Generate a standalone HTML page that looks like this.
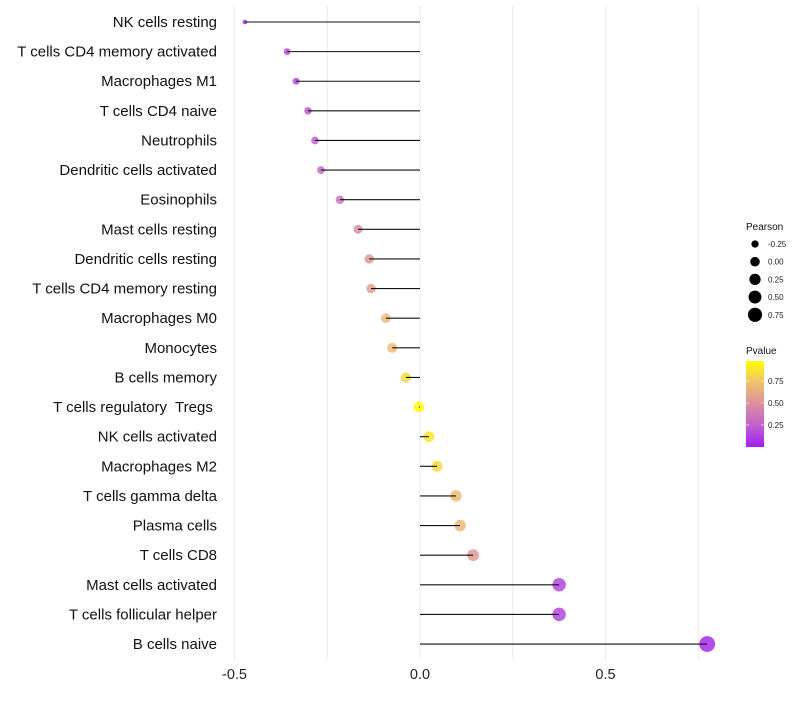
<!DOCTYPE html>
<html><head><meta charset="utf-8"><style>
body{margin:0;background:#fff;font-family:"Liberation Sans",sans-serif}
svg text{font-family:"Liberation Sans",sans-serif;white-space:pre}
</style></head><body>
<svg id="c" width="800" height="700"></svg>
<script>
const categories=["NK cells resting","T cells CD4 memory activated","Macrophages M1","T cells CD4 naive","Neutrophils","Dendritic cells activated","Eosinophils","Mast cells resting","Dendritic cells resting","T cells CD4 memory resting","Macrophages M0","Monocytes","B cells memory","T cells regulatory  Tregs ","NK cells activated","Macrophages M2","T cells gamma delta","Plasma cells","T cells CD8","Mast cells activated","T cells follicular helper","B cells naive"];
const pearson=[-0.472,-0.358,-0.334,-0.302,-0.283,-0.267,-0.216,-0.167,-0.137,-0.132,-0.092,-0.075,-0.038,-0.003,0.024,0.046,0.097,0.108,0.143,0.375,0.375,0.774];
const pvalue=[0.03,0.15,0.18,0.22,0.26,0.3,0.37,0.5,0.55,0.57,0.7,0.73,0.85,0.99,0.9,0.85,0.72,0.7,0.55,0.15,0.15,0.05];
const xTicks=[-0.5,0,0.5];
const xTickLabels=["-0.5","0.0","0.5"];
const sizeLegend=[-0.25,0,0.25,0.5,0.75];
const sizeLegendLabels=["-0.25","0.00","0.25","0.50","0.75"];
const pLegend=[0.25,0.5,0.75];
const pLegendLabels=["0.25","0.50","0.75"];

const NS="http://www.w3.org/2000/svg",svg=document.getElementById('c');
function el(t,a,p){const e=document.createElementNS(NS,t);for(const k in a)e.setAttribute(k,a[k]);(p||svg).appendChild(e);return e;}
const x=v=>420+v*371;
const y=i=>22+i*29.62;
const rad=v=>Math.sqrt(2+(v+0.5)*42)+0.5;
const stops=[[0,[160,32,240]],[0.25,[192,96,208]],[0.5,[219,143,159]],[0.75,[240,192,112]],[1,[255,255,0]]];
function col(p){for(let i=1;i<stops.length;i++){if(p<=stops[i][0]){const a=stops[i-1],b=stops[i],t=(p-a[0])/(b[0]-a[0]);return 'rgb('+a[1].map((c,j)=>Math.round(c+(b[1][j]-c)*t)).join(',')+')';}}return 'rgb(255,255,0)';}
for(let g=-0.5;g<=0.76;g+=0.25){const l=el('line',{x1:x(g),x2:x(g),y1:5,y2:660,stroke:'#ebebeb','stroke-width':1});

}
xTicks.forEach((t,i)=>{const tx=el('text',{x:x(t),y:679,'text-anchor':'middle','font-size':14.5,fill:'#222'});tx.textContent=xTickLabels[i];

});
categories.forEach((c,i)=>{
const lb=el('text',{x:217,y:y(i)+5,'text-anchor':'end','font-size':15,fill:'#111'});lb.textContent=c;


const pt=el('circle',{cx:x(pearson[i]),cy:y(i),r:rad(pearson[i]),fill:col(pvalue[i]),opacity:0.85});


const ln=el('line',{x1:x(0),x2:x(pearson[i]),y1:y(i),y2:y(i),stroke:'#111','stroke-width':1.1});


});
const t1=el('text',{x:746,y:230,'font-size':10,fill:'#111'});t1.textContent='Pearson';


sizeLegend.forEach((v,i)=>{const cy=244+i*17.7;
const d=el('circle',{cx:755,cy:cy,r:rad(v)*0.9,fill:'#000'});


const t=el('text',{x:768,y:cy+3,'font-size':8,fill:'#222'});t.textContent=sizeLegendLabels[i];

});
const t2=el('text',{x:746,y:354,'font-size':10,fill:'#111'});t2.textContent='Pvalue';


const defs=el('defs',{});const lg=el('linearGradient',{id:'g',x1:0,y1:1,x2:0,y2:0},defs);
stops.forEach(s=>el('stop',{offset:s[0],'stop-color':col(s[0])},lg));
const bar=el('rect',{x:746,y:361,width:18,height:86,fill:'url(#g)'});


pLegend.forEach((v,i)=>{const cy=447-v*88;
el('line',{x1:746,x2:749,y1:cy,y2:cy,stroke:'#fff','stroke-width':0.6});el('line',{x1:761,x2:764,y1:cy,y2:cy,stroke:'#fff','stroke-width':0.6});
const t=el('text',{x:768,y:cy+3,'font-size':8,fill:'#222'});t.textContent=pLegendLabels[i];

});
</script>
</body></html>
